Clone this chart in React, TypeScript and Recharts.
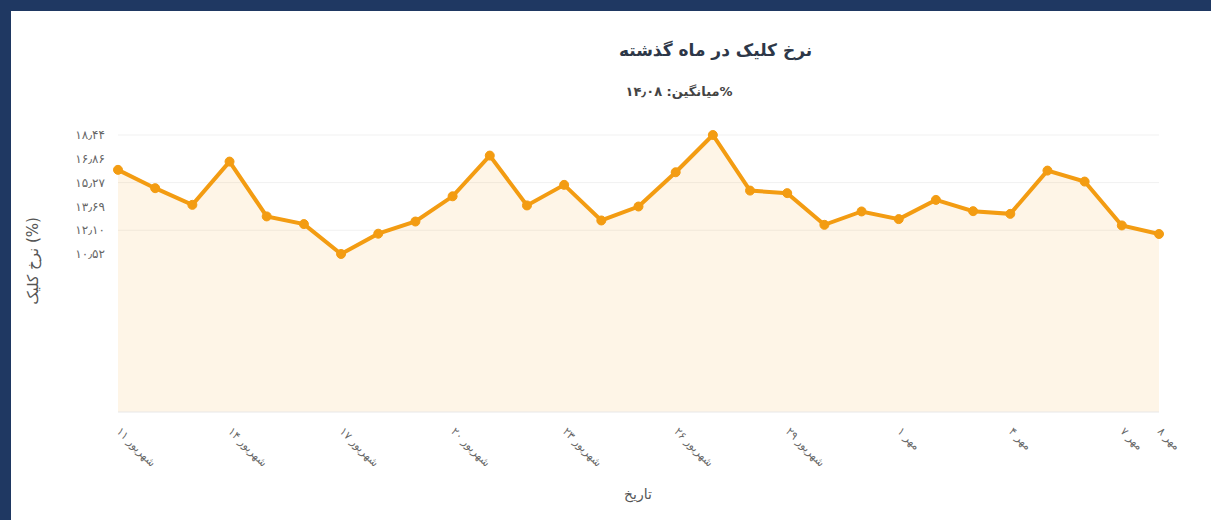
import React from 'react';
import { AreaChart, Area, XAxis, YAxis, CartesianGrid } from 'recharts';

// Dates: 11 Shahrivar .. 8 Mehr
const DATES = [
  '۱۱ شهریور', '۱۲ شهریور', '۱۳ شهریور', '۱۴ شهریور', '۱۵ شهریور', '۱۶ شهریور',
  '۱۷ شهریور', '۱۸ شهریور', '۱۹ شهریور', '۲۰ شهریور', '۲۱ شهریور', '۲۲ شهریور',
  '۲۳ شهریور', '۲۴ شهریور', '۲۵ شهریور', '۲۶ شهریور', '۲۷ شهریور', '۲۸ شهریور',
  '۲۹ شهریور', '۳۰ شهریور', '۳۱ شهریور', '۱ مهر', '۲ مهر', '۳ مهر',
  '۴ مهر', '۵ مهر', '۶ مهر', '۷ مهر', '۸ مهر',
];

const CTR = [
  16.12, 14.9, 13.79, 16.67, 13.02, 12.51, 10.52, 11.87, 12.68, 14.36,
  17.07, 13.75, 15.12, 12.75, 13.68, 15.96, 18.44, 14.74, 14.57, 12.46,
  13.35, 12.84, 14.12, 13.37, 13.19, 16.07, 15.34, 12.42, 11.85,
];

const X_TICKS = [
  '۱۱ شهریور', '۱۴ شهریور', '۱۷ شهریور', '۲۰ شهریور', '۲۳ شهریور',
  '۲۶ شهریور', '۲۹ شهریور', '۱ مهر', '۴ مهر', '۷ مهر', '۸ مهر',
];
const Y_TICKS = [10.52, 12.1, 13.69, 15.27, 16.86, 18.44];

const data = DATES.map((d, i) => ({ date: d, ctr: CTR[i] }));

const FONT = '"DejaVu Sans", sans-serif';
const ORANGE = '#f39c12';

const toFa = (s: string) => s.replace(/\d/g, (c) => '۰۱۲۳۴۵۶۷۸۹'[Number(c)]).replace('.', '٫');

const XTick = (props: any) => {
  const { x, y, payload } = props;
  return (
    <g transform={`translate(${x - 2},${y + 12})`}>
      <text
        x={0}
        y={0}
        textAnchor="start"
        transform="rotate(45)"
        fill="#666"
        fontSize={11}
        fontFamily={FONT}
      >
        {payload.value}
      </text>
    </g>
  );
};

const App = () => {
  return (
    <div style={{ position: 'absolute', left: 0, top: 0, width: 1211, height: 520, background: '#1f3862' }}>
      <div style={{ position: 'absolute', left: 11, top: 11, width: 1200, height: 509, background: '#fff' }}>
        <div
          style={{
            position: 'absolute', left: 0, top: 29, width: 1409, textAlign: 'center',
            fontFamily: FONT, fontWeight: 'bold', fontSize: 17, color: '#2d3748', direction: 'rtl',
          }}
        >
          نرخ کلیک در ماه گذشته
        </div>
        <div
          style={{
            position: 'absolute', left: 0, top: 73, width: 1336, textAlign: 'center',
            fontFamily: FONT, fontSize: 13, color: '#444', fontWeight: 'bold',
          }}
        >
          {'میانگین: ' + toFa('14.08') + '%'}
        </div>
        <div
          style={{
            position: 'absolute', left: 22, top: 251, width: 0, height: 0,
          }}
        >
          <div
            style={{
              position: 'absolute', left: -70, top: -10, width: 140, textAlign: 'center',
              transform: 'rotate(-90deg)', fontFamily: FONT, fontSize: 15, color: '#555', whiteSpace: 'nowrap',
            }}
          >
            نرخ کلیک (%)
          </div>
        </div>
        <div
          style={{
            position: 'absolute', left: 567, top: 475, width: 120, textAlign: 'center',
            fontFamily: FONT, fontSize: 14, color: '#555',
          }}
        >
          تاریخ
        </div>
        <AreaChart
          width={1200}
          height={509}
          data={data}
          margin={{ top: 124, right: 52, left: 47, bottom: 48 }}
        >
          <CartesianGrid vertical={false} stroke="#f1f1f1" />
          <XAxis
            dataKey="date"
            ticks={X_TICKS}
            interval={0}
            tick={<XTick />}
            tickLine={false}
            axisLine={{ stroke: '#eeeeee' }}
            height={60}
          />
          <YAxis
            domain={[0, 18.44]}
            ticks={Y_TICKS}
            tickFormatter={(v: number) => toFa(v.toFixed(2))}
            tick={{ fill: '#666', fontSize: 12, fontFamily: FONT }}
            tickLine={false}
            axisLine={false}
            tickSize={0}
            tickMargin={13}
            width={60}
          />
          <Area
            type="linear"
            dataKey="ctr"
            stroke={ORANGE}
            strokeWidth={4}
            fill={ORANGE}
            fillOpacity={0.1}
            dot={{ r: 4.5, fill: ORANGE, fillOpacity: 1, stroke: ORANGE, strokeWidth: 1 }}
            activeDot={false}
            isAnimationActive={false}
          />
        </AreaChart>
      </div>
    </div>
  );
};

export default App;
